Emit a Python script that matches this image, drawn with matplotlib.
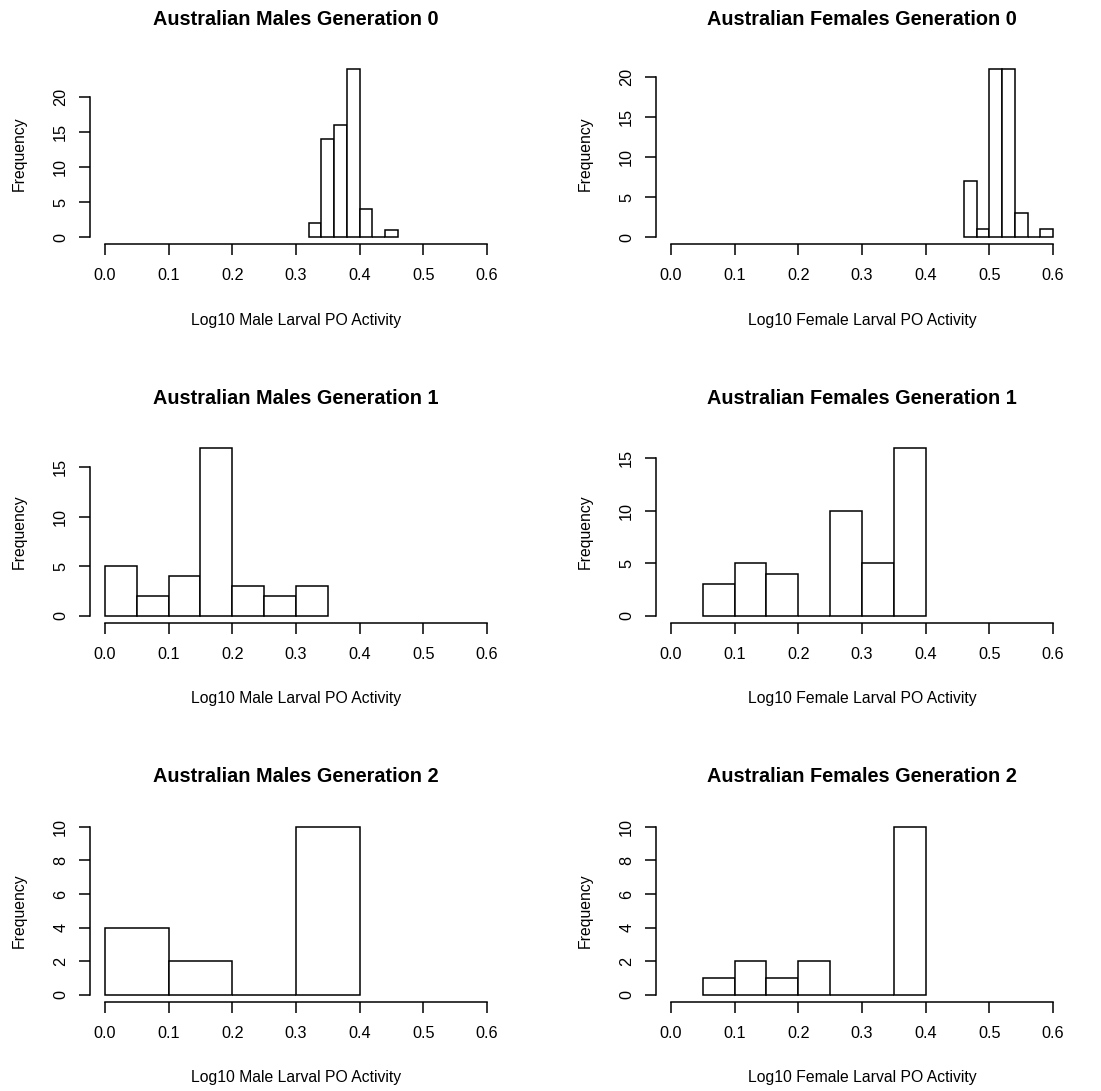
import matplotlib.pyplot as plt
import numpy as np

plt.rcParams['font.family'] = ['Liberation Sans', 'DejaVu Sans']

# bin edges and counts of each histogram
males_g0_edges = [0.32, 0.34, 0.36, 0.38, 0.40, 0.42, 0.44, 0.46]
males_g0_counts = [2, 14, 16, 24, 4, 0, 1]
females_g0_edges = [0.46, 0.48, 0.50, 0.52, 0.54, 0.56, 0.58, 0.60]
females_g0_counts = [7, 1, 21, 21, 3, 0, 1]

males_g1_edges = [0.00, 0.05, 0.10, 0.15, 0.20, 0.25, 0.30, 0.35]
males_g1_counts = [5, 2, 4, 17, 3, 2, 3]
females_g1_edges = [0.05, 0.10, 0.15, 0.20, 0.25, 0.30, 0.35, 0.40]
females_g1_counts = [3, 5, 4, 0, 10, 5, 16]

males_g2_edges = [0.0, 0.1, 0.2, 0.3, 0.4]
males_g2_counts = [4, 2, 0, 10]
females_g2_edges = [0.05, 0.10, 0.15, 0.20, 0.25, 0.30, 0.35, 0.40]
females_g2_counts = [1, 2, 1, 2, 0, 0, 10]

x_ticks = [0.0, 0.1, 0.2, 0.3, 0.4, 0.5, 0.6]
x_ticklabels = ['0.0', '0.1', '0.2', '0.3', '0.4', '0.5', '0.6']
yticks_g0 = [0, 5, 10, 15, 20]
yticks_g1 = [0, 5, 10, 15]
yticks_g2 = [0, 2, 4, 6, 8, 10]

male_xlabel = 'Log10 Male Larval PO Activity'
female_xlabel = 'Log10 Female Larval PO Activity'

W, H = 1101, 1091
fig = plt.figure(figsize=(W / 100, H / 100), dpi=100)

# plot regions in pixels (R-style: 4% padding on each axis)
col_left = [89.7, 655.7]
row_top = [62.5, 441, 820]
pw, ph = 412.6, 181.5
lw = 1.1


def hist_panel(col, row, edges, counts, yticks, title, xlabel):
    x0, y0 = col_left[col], row_top[row]
    ax = fig.add_axes([x0 / W, 1 - (y0 + ph) / H, pw / W, ph / H])
    ax.hist(edges[:-1], bins=edges, weights=counts, color='white',
            edgecolor='black', linewidth=lw)
    ymax = max(counts)
    ax.set_xlim(-0.024, 0.624)
    ax.set_ylim(-0.04 * ymax, 1.04 * ymax)
    for s in ['top', 'right']:
        ax.spines[s].set_visible(False)
    ax.spines['left'].set_bounds(yticks[0], yticks[-1])
    ax.spines['bottom'].set_bounds(x_ticks[0], x_ticks[-1])
    for s in ['left', 'bottom']:
        ax.spines[s].set_linewidth(lw)
    ax.set_xticks(x_ticks)
    ax.set_xticklabels(x_ticklabels)
    ax.set_yticks(yticks)
    ax.set_yticklabels([str(t) for t in yticks], rotation=90, va='center')
    ax.tick_params(direction='out', length=8, width=lw, labelsize=11.7)
    ax.tick_params(axis='x', pad=9.5)
    ax.tick_params(axis='y', pad=7.5)
    ax.text(0.5, 1 + 43 / ph, title, transform=ax.transAxes, ha='center',
            va='center', fontsize=14.3, fontweight='bold')
    ax.text(0.5, -76 / ph, xlabel, transform=ax.transAxes, ha='center',
            va='center', fontsize=11.3)
    ax.text(-70 / pw, 0.5, 'Frequency', transform=ax.transAxes, ha='center',
            va='center', rotation=90, fontsize=11.3)
    return ax


hist_panel(0, 0, males_g0_edges, males_g0_counts, yticks_g0,
           'Australian Males Generation 0', male_xlabel)
hist_panel(1, 0, females_g0_edges, females_g0_counts, yticks_g0,
           'Australian Females Generation 0', female_xlabel)
hist_panel(0, 1, males_g1_edges, males_g1_counts, yticks_g1,
           'Australian Males Generation 1', male_xlabel)
hist_panel(1, 1, females_g1_edges, females_g1_counts, yticks_g1,
           'Australian Females Generation 1', female_xlabel)
hist_panel(0, 2, males_g2_edges, males_g2_counts, yticks_g2,
           'Australian Males Generation 2', male_xlabel)
hist_panel(1, 2, females_g2_edges, females_g2_counts, yticks_g2,
           'Australian Females Generation 2', female_xlabel)

fig.savefig('out.png', dpi=100)
